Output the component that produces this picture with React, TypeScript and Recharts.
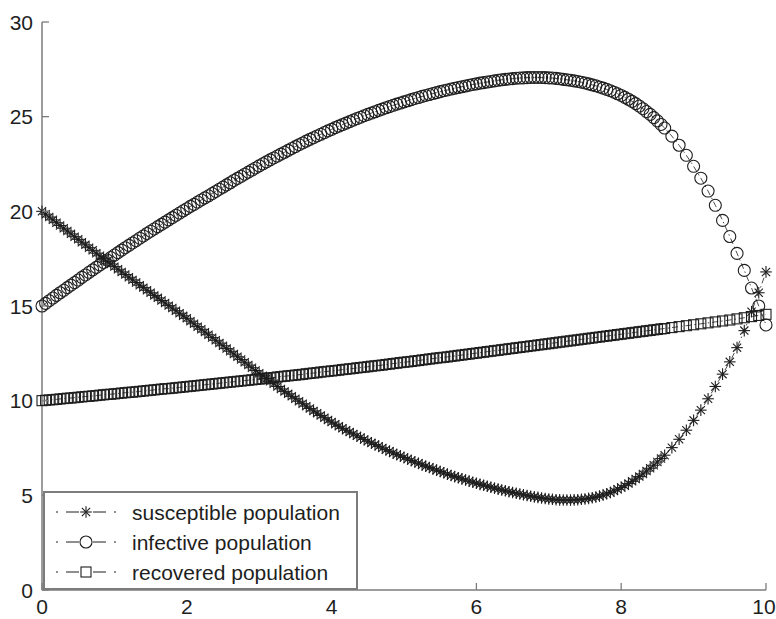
import React from 'react';
import { LineChart, Line, XAxis, YAxis, Legend } from 'recharts';

// Solver output: every 0.05 time units up to t = 8.6, then every 0.1 up to t = 10.
// Each row below covers one time unit (20 samples) unless noted.
const susceptible = [
  20.0, 19.85, 19.7, 19.55, 19.4, 19.25, 19.11, 18.96, 18.81, 18.66, 18.52, 18.37, 18.23, 18.08, 17.94, 17.79, 17.65, 17.5, 17.36, 17.22,
  17.08, 16.94, 16.8, 16.66, 16.52, 16.38, 16.24, 16.1, 15.97, 15.83, 15.7, 15.56, 15.43, 15.29, 15.16, 15.02, 14.89, 14.75, 14.62, 14.48,
  14.35, 14.2, 14.06, 13.91, 13.77, 13.62, 13.48, 13.33, 13.19, 13.04, 12.9, 12.75, 12.61, 12.46, 12.32, 12.17, 12.03, 11.88, 11.74, 11.59,
  11.45, 11.31, 11.17, 11.03, 10.89, 10.75, 10.62, 10.49, 10.36, 10.23, 10.1, 9.97, 9.84, 9.71, 9.59, 9.46, 9.34, 9.22, 9.1, 8.98,
  8.87, 8.76, 8.65, 8.54, 8.44, 8.34, 8.24, 8.14, 8.05, 7.95, 7.86, 7.77, 7.68, 7.59, 7.5, 7.41, 7.33, 7.24, 7.16, 7.08,
  7.0, 6.92, 6.84, 6.76, 6.69, 6.61, 6.54, 6.47, 6.4, 6.33, 6.26, 6.19, 6.12, 6.05, 5.99, 5.93, 5.87, 5.81, 5.75, 5.69,
  5.64, 5.58, 5.53, 5.48, 5.43, 5.38, 5.33, 5.28, 5.24, 5.19, 5.15, 5.11, 5.07, 5.03, 4.99, 4.95, 4.92, 4.89, 4.86, 4.83,
  4.81, 4.79, 4.77, 4.76, 4.75, 4.75, 4.75, 4.76, 4.77, 4.79, 4.81, 4.84, 4.87, 4.91, 4.96, 5.02, 5.08, 5.15, 5.23, 5.32,
  // t = 8.00 … 8.60
  5.41, 5.51, 5.62, 5.74, 5.86, 5.99, 6.13, 6.28, 6.43, 6.59, 6.76, 6.94, 7.12,
  // t = 8.7 … 10.0
  7.52, 7.96, 8.44, 8.96, 9.5, 10.1, 10.75, 11.4, 12.05, 12.8, 13.7, 14.7, 15.7, 16.8,
];

const infective = [
  15.0, 15.14, 15.28, 15.42, 15.56, 15.7, 15.83, 15.97, 16.1, 16.24, 16.37, 16.51, 16.64, 16.78, 16.91, 17.04, 17.17, 17.3, 17.43, 17.56,
  17.69, 17.82, 17.95, 18.08, 18.2, 18.33, 18.45, 18.58, 18.7, 18.83, 18.95, 19.07, 19.19, 19.31, 19.43, 19.55, 19.67, 19.79, 19.91, 20.03,
  20.14, 20.26, 20.37, 20.49, 20.6, 20.71, 20.82, 20.94, 21.05, 21.17, 21.28, 21.4, 21.51, 21.63, 21.74, 21.85, 21.96, 22.07, 22.18, 22.29,
  22.4, 22.51, 22.61, 22.72, 22.82, 22.92, 23.02, 23.12, 23.22, 23.32, 23.42, 23.52, 23.61, 23.71, 23.8, 23.89, 23.98, 24.07, 24.16, 24.25,
  24.33, 24.42, 24.5, 24.58, 24.66, 24.74, 24.82, 24.9, 24.97, 25.05, 25.12, 25.19, 25.26, 25.33, 25.4, 25.47, 25.53, 25.6, 25.66, 25.72,
  25.78, 25.84, 25.9, 25.96, 26.01, 26.07, 26.12, 26.17, 26.22, 26.27, 26.32, 26.37, 26.41, 26.46, 26.5, 26.54, 26.58, 26.62, 26.66, 26.7,
  26.73, 26.77, 26.8, 26.83, 26.86, 26.89, 26.92, 26.95, 26.97, 26.99, 27.01, 27.03, 27.04, 27.05, 27.06, 27.07, 27.07, 27.07, 27.07, 27.06,
  27.05, 27.04, 27.02, 27.0, 26.97, 26.95, 26.92, 26.89, 26.86, 26.82, 26.78, 26.73, 26.68, 26.63, 26.57, 26.51, 26.44, 26.37, 26.29, 26.21,
  // t = 8.00 … 8.60
  26.12, 26.02, 25.92, 25.81, 25.69, 25.56, 25.42, 25.27, 25.12, 24.95, 24.78, 24.59, 24.4,
  // t = 8.7 … 10.0
  23.97, 23.49, 22.96, 22.38, 21.75, 21.07, 20.32, 19.52, 18.67, 17.78, 16.88, 15.95, 15.0, 14.0,
];

const recovered = [
  10.0, 10.02, 10.04, 10.05, 10.07, 10.09, 10.11, 10.13, 10.14, 10.16, 10.18, 10.2, 10.22, 10.23, 10.25, 10.27, 10.29, 10.31, 10.33, 10.34,
  10.36, 10.38, 10.4, 10.42, 10.44, 10.45, 10.47, 10.49, 10.51, 10.53, 10.55, 10.57, 10.59, 10.61, 10.63, 10.64, 10.66, 10.68, 10.7, 10.72,
  10.74, 10.76, 10.78, 10.8, 10.82, 10.84, 10.86, 10.88, 10.9, 10.92, 10.94, 10.96, 10.98, 11.0, 11.02, 11.04, 11.06, 11.08, 11.1, 11.12,
  11.14, 11.16, 11.18, 11.2, 11.22, 11.25, 11.27, 11.29, 11.31, 11.33, 11.35, 11.37, 11.39, 11.42, 11.44, 11.46, 11.48, 11.51, 11.53, 11.55,
  11.57, 11.59, 11.61, 11.64, 11.66, 11.68, 11.7, 11.73, 11.75, 11.77, 11.79, 11.82, 11.84, 11.86, 11.88, 11.91, 11.93, 11.96, 11.98, 12.01,
  12.03, 12.05, 12.07, 12.1, 12.12, 12.15, 12.17, 12.2, 12.22, 12.25, 12.27, 12.29, 12.31, 12.34, 12.36, 12.39, 12.41, 12.44, 12.46, 12.49,
  12.51, 12.54, 12.56, 12.59, 12.61, 12.64, 12.66, 12.69, 12.71, 12.74, 12.76, 12.79, 12.81, 12.84, 12.86, 12.89, 12.91, 12.94, 12.96, 12.99,
  13.01, 13.04, 13.06, 13.09, 13.11, 13.14, 13.16, 13.19, 13.21, 13.24, 13.26, 13.29, 13.31, 13.34, 13.36, 13.39, 13.41, 13.44, 13.46, 13.49,
  // t = 8.00 … 8.60
  13.51, 13.54, 13.56, 13.59, 13.61, 13.64, 13.66, 13.69, 13.71, 13.74, 13.76, 13.79, 13.81,
  // t = 8.7 … 10.0
  13.86, 13.91, 13.96, 14.01, 14.06, 14.11, 14.16, 14.21, 14.26, 14.32, 14.38, 14.44, 14.5, 14.56,
];

const FINE_STEP = 0.05;
const COARSE_STEP = 0.1;
const FINE_END = 8.6;
const xTicks = [0, 2, 4, 6, 8, 10];
const yTicks = [0, 5, 10, 15, 20, 25, 30];
const seriesNames = ['susceptible population', 'infective population', 'recovered population'];

const fineCount = Math.round(FINE_END / FINE_STEP) + 1;
const timeAt = (i: number) =>
  i < fineCount ? i * FINE_STEP : FINE_END + (i - fineCount + 1) * COARSE_STEP;

const rows = susceptible.map((s, i) => ({
  t: Math.round(timeAt(i) * 100) / 100,
  S: s,
  I: infective[i],
  R: recovered[i],
}));

const INK = '#1e1e1e';
const FRAME = '#7c7c7c';
const FONT = '"Liberation Sans", Arial, sans-serif';
const FONT_SIZE = 21;
const TICK_LEN = 7;
const MARK_STROKE = 1.1;

type MarkProps = { cx: number; cy: number };

const StarMark = ({ cx, cy }: MarkProps) => {
  const r = 5.8;
  const d = r * 0.7071;
  return (
    <g stroke={INK} strokeWidth={MARK_STROKE} fill="none">
      <line x1={cx - r} y1={cy} x2={cx + r} y2={cy} />
      <line x1={cx} y1={cy - r} x2={cx} y2={cy + r} />
      <line x1={cx - d} y1={cy - d} x2={cx + d} y2={cy + d} />
      <line x1={cx - d} y1={cy + d} x2={cx + d} y2={cy - d} />
    </g>
  );
};

const CircleMark = ({ cx, cy }: MarkProps) => (
  <circle cx={cx} cy={cy} r={6} fill="none" stroke={INK} strokeWidth={MARK_STROKE} />
);

const SquareMark = ({ cx, cy }: MarkProps) => (
  <rect x={cx - 5} y={cy - 5} width={10} height={10} fill="none" stroke={INK} strokeWidth={MARK_STROKE} />
);

const marks: Record<string, (p: MarkProps) => React.ReactElement> = {
  S: StarMark,
  I: CircleMark,
  R: SquareMark,
};

const dotFor = (key: string) => (props: any) => {
  const Mark = marks[key];
  if (props.cx == null || props.cy == null) return <g key={`${key}-${props.index}`} />;
  return (
    <g key={`${key}-${props.index}`}>
      <Mark cx={props.cx} cy={props.cy} />
    </g>
  );
};

// Axis ticks point inward, as in a boxed plot frame
const BottomTick = (props: any) => {
  const { x, y, payload } = props;
  const last = payload.value === xTicks[xTicks.length - 1];
  return (
    <g>
      <line x1={x} y1={y} x2={x} y2={y - TICK_LEN} stroke={FRAME} strokeWidth={1.3} />
      <text
        x={last ? x - 2 : x}
        y={y + 24}
        textAnchor="middle"
        fontFamily={FONT}
        fontSize={FONT_SIZE}
        fill={INK}
      >
        {payload.value}
      </text>
    </g>
  );
};

const LeftTick = (props: any) => {
  const { x, y, payload } = props;
  return (
    <g>
      <line x1={x} y1={y} x2={x + TICK_LEN} y2={y} stroke={FRAME} strokeWidth={1.3} />
      <text x={x - 9} y={y + 7.5} textAnchor="end" fontFamily={FONT} fontSize={FONT_SIZE} fill={INK}>
        {payload.value}
      </text>
    </g>
  );
};

const TopTick = (props: any) => {
  const { x, y } = props;
  return <line x1={x} y1={y} x2={x} y2={y + TICK_LEN} stroke={FRAME} strokeWidth={1.3} />;
};

const RightTick = (props: any) => {
  const { x, y } = props;
  return <line x1={x} y1={y} x2={x - TICK_LEN} y2={y} stroke={FRAME} strokeWidth={1.3} />;
};

const LegendBox = () => {
  const keys = ['S', 'I', 'R'];
  return (
    <svg width={316} height={100} style={{ display: 'block' }}>
      <rect x={1} y={1} width={313} height={97} fill="#fff" stroke={FRAME} strokeWidth={2} />
      {seriesNames.map((name, i) => {
        const cy = 21 + i * 30;
        const Mark = marks[keys[i]];
        return (
          <g key={name}>
            <line x1={13} y1={cy} x2={15} y2={cy} stroke={INK} strokeWidth={1} />
            <line x1={23} y1={cy} x2={36} y2={cy} stroke={INK} strokeWidth={1} />
            <line x1={50} y1={cy} x2={63} y2={cy} stroke={INK} strokeWidth={1} />
            <line x1={71} y1={cy} x2={73} y2={cy} stroke={INK} strokeWidth={1} />
            <Mark cx={43} cy={cy} />
            <text x={89} y={cy + 7.5} fontFamily={FONT} fontSize={FONT_SIZE} fill={INK}>
              {name}
            </text>
          </g>
        );
      })}
    </svg>
  );
};

export default function App() {
  return (
    <div style={{ position: 'absolute', left: 0, top: 0, background: '#fff' }}>
      <LineChart
        width={776}
        height={619}
        data={rows}
        margin={{ top: 22, right: 10, bottom: 0, left: 0 }}
      >
        <XAxis
          dataKey="t"
          type="number"
          domain={[0, 10]}
          ticks={xTicks}
          height={29}
          tickSize={0}
          tickMargin={0}
          tickLine={false}
          axisLine={{ stroke: FRAME, strokeWidth: 1.5 }}
          tick={BottomTick}
          interval={0}
        />
        <XAxis
          xAxisId="top"
          orientation="top"
          dataKey="t"
          type="number"
          domain={[0, 10]}
          ticks={xTicks}
          height={0}
          tickSize={0}
          tickMargin={0}
          tickLine={false}
          axisLine={{ stroke: FRAME, strokeWidth: 1.5 }}
          tick={TopTick}
          interval={0}
        />
        <YAxis
          type="number"
          domain={[0, 30]}
          ticks={yTicks}
          width={42}
          tickSize={0}
          tickMargin={0}
          tickLine={false}
          axisLine={{ stroke: FRAME, strokeWidth: 1.5 }}
          tick={LeftTick}
          interval={0}
        />
        <YAxis
          yAxisId="right"
          orientation="right"
          type="number"
          domain={[0, 30]}
          ticks={yTicks}
          width={0}
          tickSize={0}
          tickMargin={0}
          tickLine={false}
          axisLine={{ stroke: FRAME, strokeWidth: 1.5 }}
          tick={RightTick}
          interval={0}
        />
        <Line
          dataKey="S"
          name={seriesNames[0]}
          type="linear"
          stroke={INK}
          strokeWidth={0.8}
          strokeDasharray="6 3 1.5 3"
          dot={dotFor('S')}
          activeDot={false}
          isAnimationActive={false}
        />
        <Line
          dataKey="I"
          name={seriesNames[1]}
          type="linear"
          stroke={INK}
          strokeWidth={0.8}
          strokeDasharray="6 3 1.5 3"
          dot={dotFor('I')}
          activeDot={false}
          isAnimationActive={false}
        />
        <Line
          dataKey="R"
          name={seriesNames[2]}
          type="linear"
          stroke={INK}
          strokeWidth={0.8}
          strokeDasharray="6 3 1.5 3"
          dot={dotFor('R')}
          activeDot={false}
          isAnimationActive={false}
        />
        <Legend
          layout="horizontal"
          align="center"
          verticalAlign="middle"
          wrapperStyle={{ left: 43, top: 491, width: 316, height: 100 }}
          content={() => <LegendBox />}
        />
      </LineChart>
    </div>
  );
}
